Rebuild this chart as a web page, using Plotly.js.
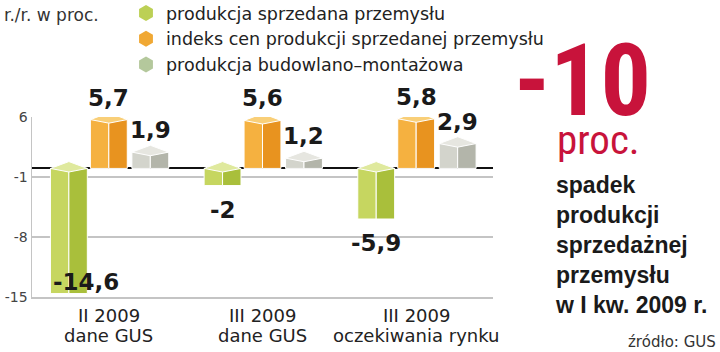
<!DOCTYPE html>
<html><head><meta charset="utf-8">
<script src="https://cdn.plot.ly/plotly-3.0.1.min.js"></script>
<style>html,body{margin:0;padding:0;background:#fff}#chart{width:720px;height:352px}</style>
</head><body><div id="chart"></div>
<script>
const categoryPeriod = ["II 2009", "III 2009", "III 2009"];
const categorySource = ["dane GUS", "dane GUS", "oczekiwania rynku"];
const seriesNames = ["produkcja sprzedana przemysłu", "indeks cen produkcji sprzedanej przemysłu", "produkcja budowlano–montażowa"];
const produkcjaSprzedana = [-14.6, -2, -5.9];
const indeksCen = [5.7, 5.6, 5.8];
const produkcjaBudowlana = [1.9, 1.2, 2.9];
const yTicks = [6, -1, -8, -15];

const series = [produkcjaSprzedana, indeksCen, produkcjaBudowlana];
const palette = [
  {left:'#c6d660', right:'#a9bf3b', top:'#dfe99d', legend:'#bcd055'},
  {left:'#f5b140', right:'#e8931f', top:'#f9cf78', legend:'#f0a834'},
  {left:'#d3d4cc', right:'#b3b5aa', top:'#e6e6e0', legend:'#b4c89c'}
];
const centerOffset = [-0.26, 0, 0.27];
const halfW = 0.12;
const capFront = 0.42, capBack = 0.8;
const xIdx = categoryPeriod.map((_, i) => i);
const FONT = '"DejaVu Sans", sans-serif';
const NARROW = '"Liberation Sans Narrow", "Roboto Condensed", "Arial Narrow", "Liberation Sans", sans-serif';

const traces = [];
series.forEach((vals, s) => {
  const p = palette[s];
  traces.push({type:'bar', x:xIdx, y:vals, offset:centerOffset[s]-halfW, width:halfW,
    marker:{color:p.left, line:{color:'#fff', width:1}}, hoverinfo:'skip', showlegend:false});
  traces.push({type:'bar', x:xIdx, y:vals, offset:centerOffset[s], width:halfW,
    marker:{color:p.right, line:{color:'#fff', width:1}}, hoverinfo:'skip', showlegend:false});
  const px = [], py = [];
  vals.forEach((v, i) => {
    const c = i + centerOffset[s];
    const t = Math.max(v, 0);
    px.push(c-halfW, c, c+halfW, c, c-halfW, null);
    py.push(t, t-capFront, t, t+capBack, t, null);
  });
  traces.push({type:'scatter', mode:'lines', x:px, y:py, fill:'toself', fillcolor:p.top,
    line:{color:'#fff', width:1}, hoverinfo:'skip', showlegend:false});
});
series.forEach((vals, s) => {
  traces.push({type:'scatter', mode:'markers', x:[null], y:[null], name:seriesNames[s],
    marker:{symbol:'hexagon', size:16, color:palette[s].legend}, showlegend:true});
});

const L = 32, R = 493, T = 117, B = 297;
const pxp = x => (x - L) / (R - L);
const pyp = y => (B - y) / (B - T);

const annotations = [];
series.forEach((vals, s) => {
  vals.forEach((v, i) => {
    const inside = v < -10;
    annotations.push({x:i+centerOffset[s], y:v, xref:'x', yref:'y', showarrow:false,
      text:String(v).replace('.', ','), font:{family:FONT, size:23, color:'#1a1a1a', weight:'bold'},
      yanchor:'middle', xanchor:'center',
      yshift: v >= 0 ? 22 : (inside ? 12 : -24), xshift: inside ? 17 : 0});
  });
});
xIdx.forEach(i => {
  annotations.push({x:i, xref:'x', yref:'paper', y:pyp(315), yanchor:'middle', showarrow:false,
    text:categoryPeriod[i], font:{family:FONT, size:18, color:'#222'}});
  annotations.push({x:i, xref:'x', yref:'paper', y:pyp(335), yanchor:'middle', showarrow:false,
    text:categorySource[i], font:{family:FONT, size:18, color:'#222'}});
});
annotations.push({xref:'paper', yref:'paper', x:pxp(2), y:pyp(15), xanchor:'left', yanchor:'middle', showarrow:false,
  text:'r./r. w proc.', font:{family:FONT, size:17, color:'#333'}});
annotations.push({xref:'paper', yref:'paper', x:pxp(512), y:pyp(80), xanchor:'left', yanchor:'middle', showarrow:false,
  text:'-10', font:{family:NARROW, size:100, color:'#c8133b', weight:'bold'}});
annotations.push({xref:'paper', yref:'paper', x:pxp(555), y:pyp(140), xanchor:'left', yanchor:'middle', showarrow:false,
  text:'proc.', font:{family:NARROW, size:41, color:'#c8133b'}});
annotations.push({xref:'paper', yref:'paper', x:pxp(553), y:pyp(245), xanchor:'left', yanchor:'middle', align:'left', showarrow:false,
  text:'spadek<br>produkcji<br>sprzedażnej<br>przemysłu<br>w I kw. 2009 r.', font:{family:'"Liberation Sans", sans-serif', size:23, color:'#1a1a1a', weight:'bold'}});
annotations.push({xref:'paper', yref:'paper', x:pxp(718), y:pyp(342), xanchor:'right', yanchor:'middle', showarrow:false,
  text:'źródło: GUS', font:{family:FONT, size:15, color:'#333'}});

const layout = {
  width:720, height:352,
  margin:{l:L, r:720-R, t:T, b:352-B, pad:0, autoexpand:false},
  paper_bgcolor:'#fff', plot_bgcolor:'#fff',
  barmode:'overlay',
  showlegend:true,
  legend:{x:pxp(126), y:pyp(-5), xanchor:'left', yanchor:'top', bgcolor:'rgba(0,0,0,0)',
    font:{family:FONT, size:17.5, color:'#222'}, itemsizing:'trace', tracegroupgap:0},
  xaxis:{range:[-0.5, 2.5], tickvals:xIdx, showticklabels:false, showgrid:false, zeroline:false,
    showline:true, linecolor:'#c4c4c4', linewidth:1.5, ticks:'', fixedrange:true},
  yaxis:{range:[-15, 6], tickvals:yTicks, ticktext:yTicks.map(String), showgrid:true, gridcolor:'#c4c4c4', gridwidth:1.5,
    showline:true, linecolor:'#c4c4c4', linewidth:1.5, zeroline:true, zerolinecolor:'#111', zerolinewidth:2,
    ticks:'', fixedrange:true, tickfont:{family:FONT, size:14, color:'#444'}},
  annotations:annotations
};
Plotly.newPlot('chart', traces, layout, {displayModeBar:false, staticPlot:true});
</script></body></html>
